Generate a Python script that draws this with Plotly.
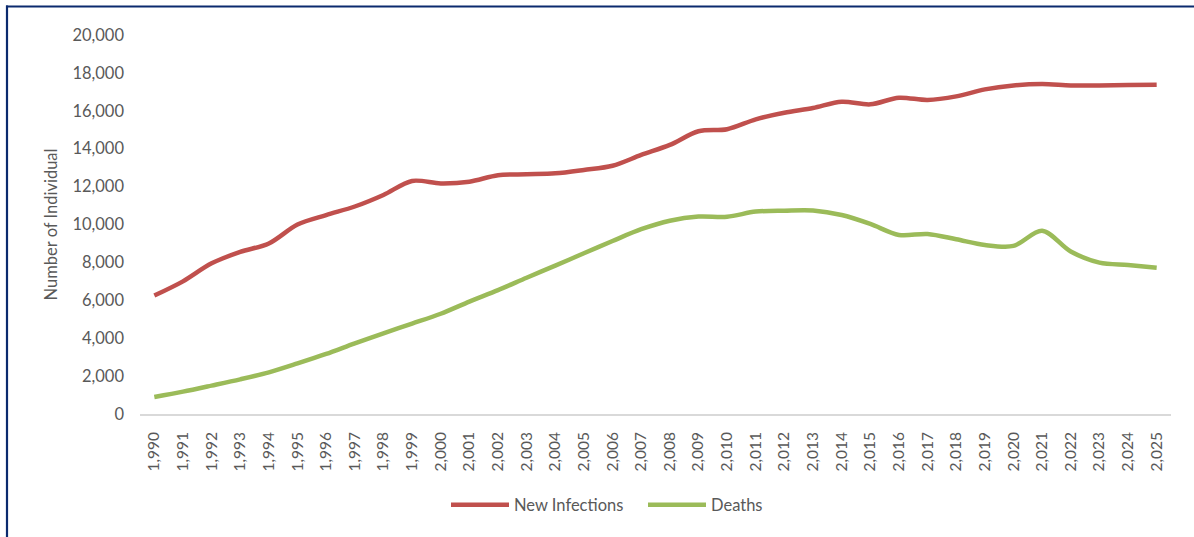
import plotly.graph_objects as go

# Annual estimates, 1990-2025
years = list(range(1990, 2026))
year_labels = [f"{y:,}" for y in years]

new_infections = [
    6250, 7000, 7950, 8550, 9000, 10000, 10500, 10950, 11560, 12300,
    12170, 12260, 12600, 12650, 12700, 12880, 13100, 13670, 14200, 14920,
    15030, 15550, 15900, 16150, 16480, 16340, 16690, 16570, 16760, 17130,
    17340, 17410, 17340, 17340, 17360, 17380,
]
deaths = [
    900, 1180, 1500, 1830, 2200, 2670, 3170, 3730, 4260, 4770,
    5290, 5930, 6540, 7190, 7830, 8480, 9130, 9750, 10200, 10420,
    10410, 10680, 10730, 10740, 10500, 10030, 9450, 9500, 9220, 8920,
    8870, 9670, 8570, 7990, 7860, 7720,
]

W, H = 1194, 537
L, R, T, B = 140, 23, 35, 123
PW, PH = W - L - R, H - T - B

FONT = "Lato"
GREY = "#595959"

fig = go.Figure()
fig.add_trace(go.Scatter(
    x=year_labels, y=new_infections, name="New Infections", mode="lines",
    line=dict(color="#C0504D", width=4.5, shape="spline", smoothing=0.9),
))
fig.add_trace(go.Scatter(
    x=year_labels, y=deaths, name="Deaths", mode="lines",
    line=dict(color="#9BBB59", width=4.5, shape="spline", smoothing=0.9),
))


def px_x(px):
    return (px - L) / PW


def px_y(py):
    return (H - B - py) / PH


# navy frame along the top and left edges
border = "#0B2A6E"
shapes = [
    dict(type="line", xref="paper", yref="paper", x0=px_x(6), x1=px_x(W + 2),
         y0=px_y(6.5), y1=px_y(6.5), line=dict(color=border, width=1.8)),
    dict(type="line", xref="paper", yref="paper", x0=px_x(7), x1=px_x(7),
         y0=px_y(5.6), y1=px_y(H + 2), line=dict(color=border, width=2.2)),
]

fig.update_layout(
    width=W, height=H,
    margin=dict(l=L, r=R, t=T, b=B),
    paper_bgcolor="white", plot_bgcolor="white",
    font=dict(family=FONT, color=GREY, size=16),
    shapes=shapes,
    showlegend=True,
    legend=dict(
        orientation="h", x=px_x(446), xanchor="left", y=px_y(505), yanchor="middle",
        font=dict(family=FONT, size=16.5, color=GREY), itemwidth=58,
        entrywidth=124, entrywidthmode="pixels", bgcolor="rgba(0,0,0,0)",
    ),
    xaxis=dict(
        type="category", range=[-0.5, 35.5], showgrid=False, zeroline=False,
        showline=True, linecolor="#D9D9D9", linewidth=1.5,
        ticks="", tickangle=-90, ticklabelstandoff=10,
        tickfont=dict(family=FONT, size=15.5, color=GREY),
    ),
    yaxis=dict(
        range=[0, 20000], tickvals=list(range(0, 20001, 2000)), tickformat=",d",
        showgrid=False, zeroline=False, showline=False, ticks="",
        ticklabelstandoff=15,
        tickfont=dict(family=FONT, size=16.5, color=GREY),
        title=dict(text="Number of Individual", standoff=10,
                   font=dict(family=FONT, size=16.5, color=GREY)),
    ),
)

fig.write_html("out.html")
